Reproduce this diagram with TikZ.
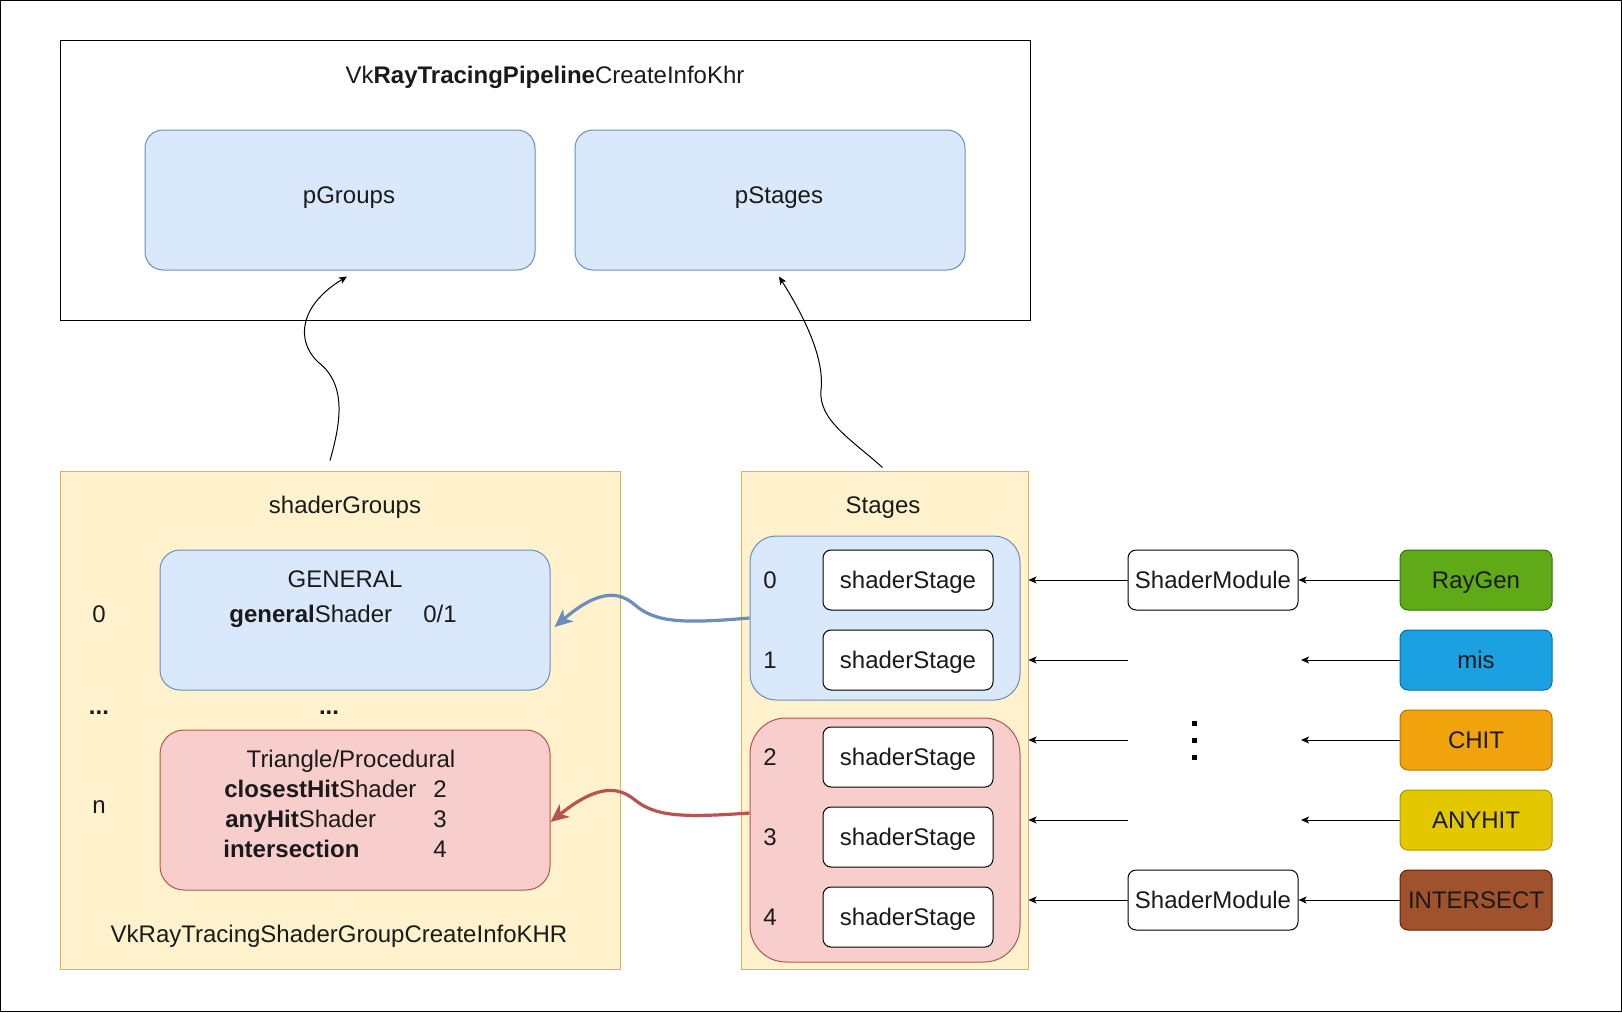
\documentclass[tikz,border=0pt]{standalone}
\usepackage{fontspec}
\setmainfont{Liberation Sans}
\usetikzlibrary{arrows.meta,calc}
\definecolor{bluefill}{HTML}{DAE8FC}
\definecolor{bluestroke}{HTML}{6C8EBF}
\definecolor{yelfill}{HTML}{FFF2CC}
\definecolor{yelstroke}{HTML}{D6B656}
\definecolor{redfill}{HTML}{F8CECC}
\definecolor{redstroke}{HTML}{B85450}
\definecolor{rgfill}{HTML}{60A917}\definecolor{rgstroke}{HTML}{2D7600}
\definecolor{misfill}{HTML}{1BA1E2}\definecolor{misstroke}{HTML}{006EAF}
\definecolor{chitfill}{HTML}{F0A30A}\definecolor{chitstroke}{HTML}{BD7000}
\definecolor{anyfill}{HTML}{E3C800}\definecolor{anystroke}{HTML}{B09500}
\definecolor{intfill}{HTML}{A0522D}\definecolor{intstroke}{HTML}{6D1F00}
\definecolor{txtcol}{HTML}{1A1A1A}
\begin{document}
\begin{tikzpicture}[x=0.5pt,y=-0.5pt,
  font=\fontsize{12pt}{14.4pt}\selectfont,
  every node/.style={text=txtcol, text height=10.86pt, text depth=2.54pt},
  box/.style={draw, rectangle, inner sep=0pt, line width=0.5pt},
  topbox/.style={box, draw=black, fill=white, minimum width=485pt, minimum height=140pt},
  ptrbox/.style={box, draw=bluestroke, fill=bluefill, rounded corners=9pt, minimum width=195pt, minimum height=70pt},
  contbox/.style={box, draw=yelstroke, fill=yelfill},
  genbox/.style={box, draw=bluestroke, fill=bluefill, rounded corners=10pt, minimum width=195pt, minimum height=70pt},
  tribox/.style={box, draw=redstroke, fill=redfill, rounded corners=12pt, minimum width=195pt, minimum height=80pt},
  bluegrp/.style={box, draw=bluestroke, fill=bluefill, rounded corners=13pt, minimum width=135pt, minimum height=82pt},
  redgrp/.style={box, draw=redstroke, fill=redfill, rounded corners=18pt, minimum width=135pt, minimum height=122pt},
  stagebox/.style={box, draw=black, fill=white, rounded corners=4pt, minimum width=85pt, minimum height=30pt},
  modbox/.style={box, draw=black, fill=white, rounded corners=4pt, minimum width=85pt, minimum height=30pt},
  colbox/.style={box, rounded corners=4pt, minimum width=76pt, minimum height=30pt},
  txt/.style={inner sep=0pt},
  conn/.style={draw=black, line width=0.5pt, -{Stealth[length=4pt,width=3.5pt,inset=1pt]}},
  bigarrow/.style={line width=1.6pt, -{Stealth[length=9pt,width=8pt,inset=2.5pt]}}
]
\useasboundingbox (0,0) rectangle (1622,1012);
\draw[line width=0.6pt] (0.6,0.6) rectangle (1621.4,1011.4);

% top structure
\node[topbox] (top) at (545,180) {};
\node[txt] (title) at (545,75) {Vk\textbf{RayTracingPipeline}CreateInfoKhr};
\node[ptrbox] (pgroups) at (340,200) {};
\node[txt] (pgroupslbl) at (349,195) {pGroups};
\node[ptrbox] (pstages) at (770,200) {};
\node[txt] (pstageslbl) at (779,195) {pStages};

% shader groups container
\node[contbox, minimum width=280pt, minimum height=249pt] (sgcont) at (340,720) {};
\node[txt] (sgtitle) at (345,505) {shaderGroups};
\node[txt] (sgfoot) at (339,934) {VkRayTracingShaderGroupCreateInfoKHR};
\node[genbox] (general) at (355,620) {};
\node[txt] (gentitle) at (345,579) {GENERAL};
\node[txt, anchor=west] (genshader) at (229,614) {\textbf{general}Shader};
\node[txt] (gennum) at (440,614) {0/1};
\node[tribox] (tri) at (355,810) {};
\node[txt] (trititle) at (351,759) {Triangle/Procedural};
\node[txt, anchor=west] (chs) at (224,789) {\textbf{closestHit}Shader};
\node[txt] (chsnum) at (440,789) {2};
\node[txt, anchor=west] (ahs) at (225,819) {\textbf{anyHit}Shader};
\node[txt] (ahsnum) at (440,819) {3};
\node[txt, anchor=west] (isec) at (223,849) {\textbf{intersection}};
\node[txt] (isecnum) at (440,849) {4};
\node[txt] (idx0) at (99,614) {0};
\node[txt] (idxdots) at (99,706) {\textbf{...}};
\node[txt] (middots) at (329,706) {\textbf{...}};
\node[txt] (idxn) at (99,805) {n};

% stages container
\node[contbox, minimum width=143.5pt, minimum height=249pt] (stcont) at (884.5,720) {};
\node[txt] (sttitle) at (883,505) {Stages};
\node[bluegrp] (bgrp) at (885,618) {};
\node[redgrp] (rgrp) at (885,840) {};
\node[stagebox] (st0) at (908,580) {shaderStage};
\node[stagebox] (st1) at (908,660) {shaderStage};
\node[stagebox] (st2) at (908,757) {shaderStage};
\node[stagebox] (st3) at (908,837) {shaderStage};
\node[stagebox] (st4) at (908,917) {shaderStage};
\node[txt] (n0) at (770,580) {0};
\node[txt] (n1) at (770,660) {1};
\node[txt] (n2) at (770,757) {2};
\node[txt] (n3) at (770,837) {3};
\node[txt] (n4) at (770,917) {4};

% modules
\node[modbox] (sm0) at (1213,580) {ShaderModule};
\node[modbox] (sm4) at (1213,900) {ShaderModule};
\coordinate (m1L) at (1128,660);
\coordinate (m2L) at (1128,740);
\coordinate (m3L) at (1128,820);
\coordinate (m1R) at (1301,660);
\coordinate (m2R) at (1301,740);
\coordinate (m3R) at (1301,820);
\fill[black] (1191.5,720.5) rectangle (1196.5,725.5);
\fill[black] (1191.5,737.5) rectangle (1196.5,742.5);
\fill[black] (1191.5,754.5) rectangle (1196.5,759.5);

% coloured shader boxes
\node[colbox, fill=rgfill, draw=rgstroke] (raygen) at (1476,580) {RayGen};
\node[colbox, fill=misfill, draw=misstroke] (mis) at (1476,660) {mis};
\node[colbox, fill=chitfill, draw=chitstroke] (chit) at (1476,740) {CHIT};
\node[colbox, fill=anyfill, draw=anystroke] (anyhit) at (1476,820) {ANYHIT};
\node[colbox, fill=intfill, draw=intstroke] (intersect) at (1476,900) {INTERSECT};

% arrows to stages
\draw[conn] (sm0.west) -- (sm0.west -| stcont.east);
\draw[conn] (m1L) -- (m1L -| stcont.east);
\draw[conn] (m2L) -- (m2L -| stcont.east);
\draw[conn] (m3L) -- (m3L -| stcont.east);
\draw[conn] (sm4.west) -- (sm4.west -| stcont.east);
\draw[conn] (raygen.west) -- (sm0.east);
\draw[conn] (mis.west) -- (m1R);
\draw[conn] (chit.west) -- (m2R);
\draw[conn] (anyhit.west) -- (m3R);
\draw[conn] (intersect.west) -- (sm4.east);

% curved arrows to top struct
\coordinate (gstart) at ($(sgcont.north)+(-10,-10)$);
\coordinate (gtip) at ($(pgroups.south)+(7,6)$);
\draw[conn] (gstart) .. controls (340,425) and (348,385) .. (318,362) .. controls (295,340) and (300,305) .. (gtip);
\coordinate (sstart) at ($(stcont.north)+(-2,-3)$);
\coordinate (stip) at ($(pstages.south)+(9,6)$);
\draw[conn] (sstart) .. controls (852,440) and (818,420) .. (821,390) .. controls (825,355) and (800,310) .. (stip);

% coloured group arrows
\coordinate (btip) at ($(general.east)+(4,7)$);
\draw[bigarrow, draw=bluestroke] (bgrp.west) .. controls (680,624) and (655,622) .. (635,605) .. controls (620,592) and (600,588) .. (btip);
\coordinate (rstart) at ($(rgrp.west)+(0,-27)$);
\coordinate (rtip) at ($(tri.east)+(0,12)$);
\draw[bigarrow, draw=redstroke] (rstart) .. controls (680,818) and (655,816) .. (635,800) .. controls (620,788) and (600,782) .. (rtip);
\end{tikzpicture}
\end{document}
